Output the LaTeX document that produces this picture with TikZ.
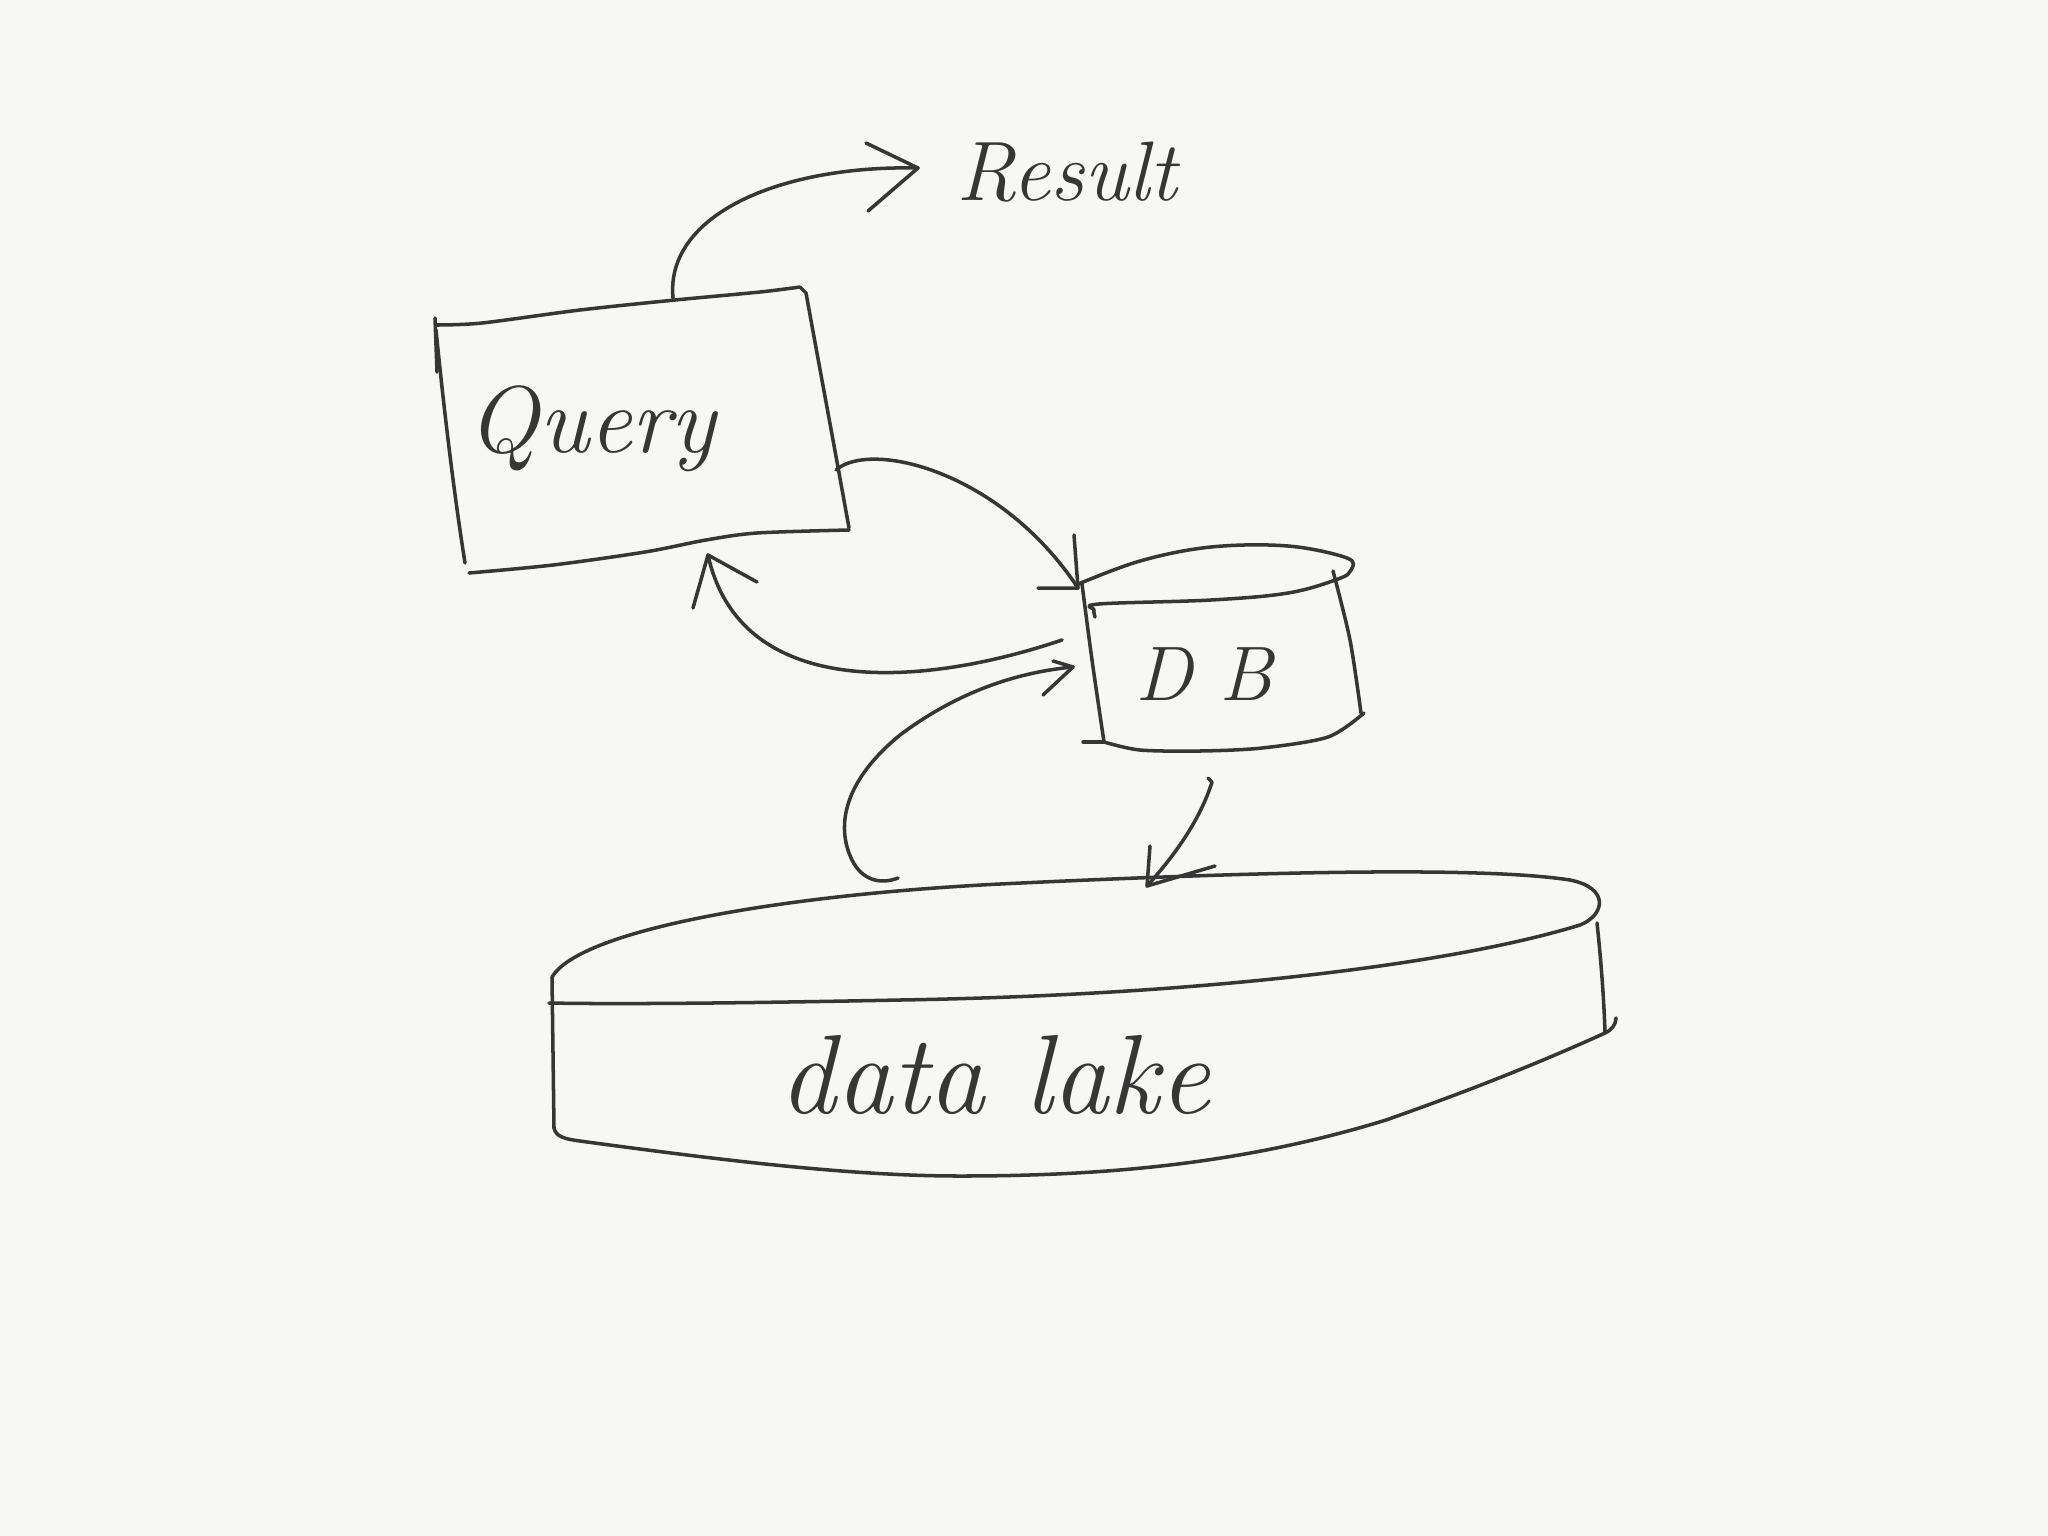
\documentclass[tikz,border=0pt]{standalone}
\usepackage{fontspec}
\definecolor{ink}{HTML}{363636}
\definecolor{paper}{HTML}{F7F7F5}
\begin{document}
\begin{tikzpicture}[x=0.01cm,y=-0.01cm,
  pen/.style={draw=ink,line width=1pt,line cap=round,line join=round},
  hand/.style={text=ink,inner sep=0pt,anchor=base,font=\fontsize{25}{30}\selectfont\itshape}]
\fill[paper] (0,0) rectangle (2048,1536);
\useasboundingbox (0,0) rectangle (2048,1536);

% ---------- labels ----------
\node[hand,font=\fontsize{27}{32}\selectfont\itshape] (query) at (592,452) {Query};
\node[hand,font=\fontsize{24}{28}\selectfont\itshape] (result) at (1067,200) {Result};
\node[hand,font=\fontsize{22}{26}\selectfont\itshape] (db) at (1204,700) {D B};
\node[hand,font=\fontsize{32}{38}\selectfont\itshape] (lake) at (995,1113) {data lake};

% ---------- Query box ----------
\draw[pen] (435,318) -- (437,372);
\draw[pen] (436,330) .. controls (445,420) and (455,500) .. (465,563);
\draw[pen] plot[smooth,tension=0.5] coordinates {(436,325) (482,323) (580,310) (675,300) (760,292) (800,287)};
\draw[pen] (800,287) -- (806,293) .. controls (820,370) and (835,450) .. (849,528);
\draw[pen] plot[smooth,tension=0.5] coordinates {(849,530) (757,533) (706,540) (645,552) (553,565) (469,573)};

% ---------- DB cylinder ----------
\draw[pen] plot[smooth,tension=0.6] coordinates {(1076,585) (1140,561) (1211,547) (1288,546) (1347,558) (1351,570) (1338,579) (1288,593) (1211,600) (1099,604) (1094,610) (1095,617)};
\draw[pen] plot[smooth,tension=0.5] coordinates {(1082,584) (1092,660) (1104,742)};
\draw[pen] (1083,742) -- (1104,742);
\draw[pen] plot[smooth,tension=0.5] coordinates {(1104,742) (1140,750) (1200,751) (1262,748) (1328,737) (1364,713)};
\draw[pen] plot[smooth,tension=0.5] coordinates {(1333,571) (1350,640) (1361,713)};

% ---------- data lake ----------
\draw[pen] (552,977) .. controls (580,930) and (780,895) .. (1000,884)
  .. controls (1250,872) and (1480,866) .. (1570,880)
  .. controls (1610,888) and (1605,915) .. (1580,925)
  .. controls (1450,965) and (1200,995) .. (900,1000)
  .. controls (700,1004) and (600,1004) .. (549,1003);
\draw[pen] (552,977) -- (554,1128);
\draw[pen] (554,1128) .. controls (556,1137) and (565,1139) .. (580,1141)
  .. controls (720,1160) and (850,1176) .. (960,1176)
  .. controls (1100,1176) and (1240,1165) .. (1386,1120)
  .. controls (1480,1087) and (1550,1058) .. (1605,1033);
\draw[pen] (1597,923) .. controls (1601,960) and (1604,1000) .. (1605,1033) .. controls (1612,1030) and (1616,1024) .. (1616,1018);

% ---------- connector end points ----------
\coordinate (qTop) at (673,298);
\coordinate (resTip) at (918,168);
\coordinate (qRight) at (836,470);
\coordinate (dbTL) at (1078,588);
\coordinate (dbLeft) at (1062,640);
\coordinate (qBot) at (708,555);
\coordinate (lakeTop) at (898,878);
\coordinate (dbIn) at (1073,667);
\coordinate (dbBot) at (1212,782);
\coordinate (lakeTip) at (1147,886);

% Query -> Result
\draw[pen] (qTop) .. controls (665,215) and (780,165) .. (resTip);
\draw[pen] (866,143) -- (resTip) -- (868,211);

% Query -> DB
\draw[pen] (qRight) .. controls (870,440) and (1000,470) .. (dbTL);
\draw[pen] (1074,535) -- (dbTL) -- (1038,588);

% DB -> Query
\draw[pen] (dbLeft) .. controls (920,688) and (740,700) .. (qBot);
\draw[pen] (693,608) -- (qBot) -- (757,582);

% data lake -> DB
\draw[pen] (lakeTop) .. controls (880,885) and (862,880) .. (852,860)
  .. controls (835,825) and (845,780) .. (900,735)
  .. controls (960,690) and (1020,672) .. (dbIn);
\draw[pen] (1053,661) -- (dbIn) -- (1043,695);

% DB -> data lake
\draw[pen] (1208,778) -- (dbBot) .. controls (1200,820) and (1175,855) .. (lakeTip);
\draw[pen] (1150,846) -- (lakeTip) -- (1215,866);
\end{tikzpicture}
\end{document}
